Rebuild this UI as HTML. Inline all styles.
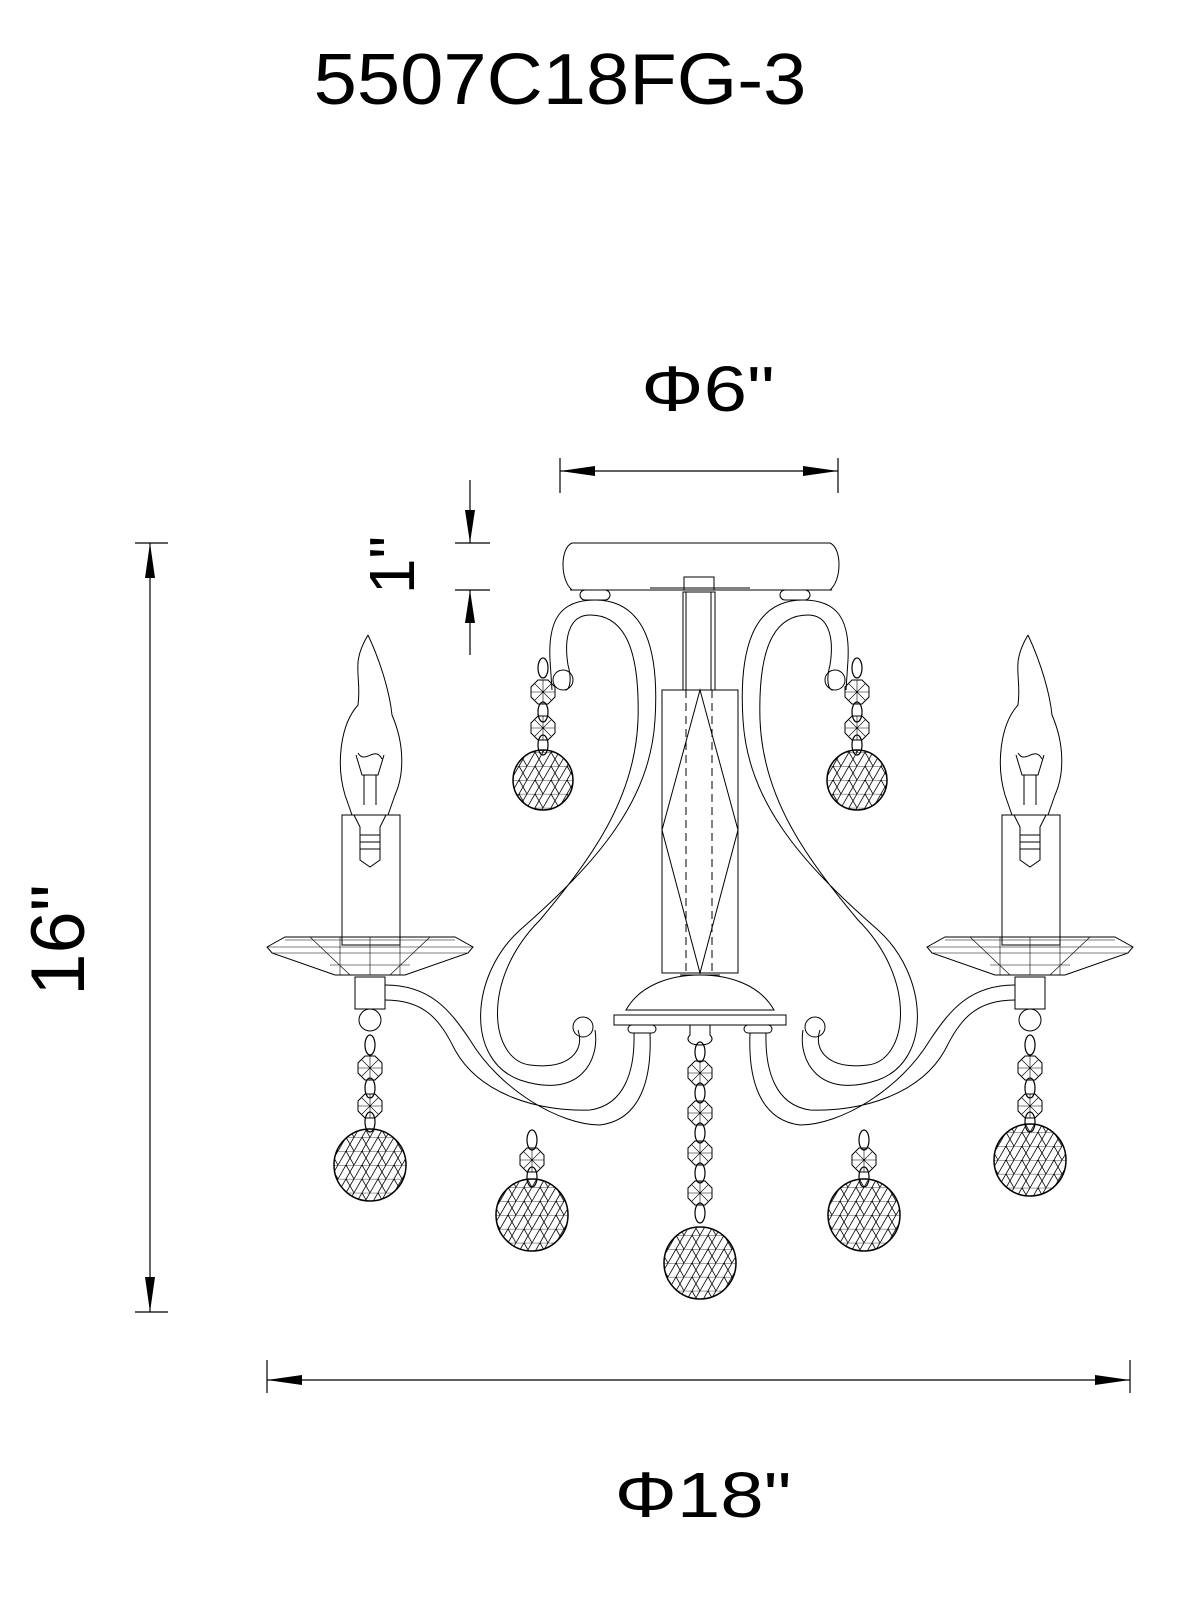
<!DOCTYPE html>
<html><head><meta charset="utf-8"><style>
html,body{margin:0;padding:0;background:#fff;}
svg{display:block}
text{font-family:"Liberation Sans",Arial,sans-serif;fill:#000}
</style></head><body>
<svg width="1186" height="1600" viewBox="0 0 1186 1600" xmlns="http://www.w3.org/2000/svg">
<defs>
<pattern id="tri" width="16" height="13.9" patternUnits="userSpaceOnUse">
<path d="M0 0H16M0 13.9L8 0L16 13.9M-8 0L0 13.9M8 13.9L16 0" stroke="#000" stroke-width="0.8" fill="none"/>
</pattern>
<g id="ball"><circle r="36" fill="url(#tri)" stroke="#000" stroke-width="1.5"/></g>
<g id="sball"><circle r="30" fill="url(#tri)" stroke="#000" stroke-width="1.5"/></g>
<g id="oct"><polygon points="-5,-12 5,-12 12,-5 12,5 5,12 -5,12 -12,5 -12,-5" fill="none" stroke="#000" stroke-width="1"/><path d="M-12,0H12M0,-12V12M-8,-8L8,8M8,-8L-8,8" stroke="#000" stroke-width="0.6"/></g>
<g id="link"><ellipse rx="5" ry="10" fill="none" stroke="#000" stroke-width="1.2"/></g>
<g id="candle">
<path d="M-2,-180 C-20,-150 -8,-140 -12,-110 C-30,-90 -34,-50 -25,-20 L-18,0 M-2,-180 C12,-150 20,-120 22,-100 C35,-70 34,-40 25,-20 L18,0" fill="none" stroke="#000" stroke-width="1"/>
<path d="M-14,-60 L-8,-40 L8,-40 L14,-60 M-6,-40 V-10 M6,-40V-10 M-12,-62 C-5,-50 5,-70 12,-56" fill="none" stroke="#000" stroke-width="1"/>
<rect x="-28" y="0" width="58" height="130" fill="none" stroke="#000" stroke-width="1"/>
<path d="M-16,0 L-10,12 V45 L0,52 L10,45 V12 L16,0 M-10,20H10M-10,27H10M-10,34H10" fill="none" stroke="#000" stroke-width="1"/>
<path d="M-103,132 L-85,122 H85 L103,132 L98,138 L35,160 H-35 L-98,138 Z" fill="none" stroke="#000" stroke-width="1"/>
<path d="M-103,132 H103 M-98,138 H98 M-60,122 L-20,160 M60,122 L20,160 M0,122V160 M-30,122V160 M30,122V160 M-85,125 H85 M-40,150 H40" fill="none" stroke="#000" stroke-width="0.6"/>
<rect x="-15" y="162" width="30" height="32" fill="none" stroke="#000" stroke-width="1"/>
<circle cx="0" cy="205" r="11" fill="none" stroke="#000" stroke-width="1"/>
</g>
</defs>

<!-- Title -->
<text font-size="72" text-anchor="middle" transform="translate(560,104) scale(1.08,1)">5507C18FG-3</text>

<!-- Phi6 -->
<text font-size="64" text-anchor="middle" transform="translate(708,411) scale(1.22,1)">Φ6"</text>
<g stroke="#000" stroke-width="1.2" fill="none">
<path d="M560,458V493 M838,458V493 M560,471H838"/>
<path d="M455,543H490 M455,590H490 M470,480V543 M470,590V655"/>
<path d="M135,543H168 M135,1312H168 M150,543V1312"/>
<path d="M267,1360V1393 M1130,1360V1393 M267,1380H1130"/>
</g>
<g fill="#000">
<polygon points="560,471 595,466 595,476"/><polygon points="838,471 803,466 803,476"/>
<polygon points="470,543 465,510 475,510"/><polygon points="470,590 465,623 475,623"/>
<polygon points="150,543 145,578 155,578"/><polygon points="150,1312 145,1277 155,1277"/>
<polygon points="267,1380 302,1375 302,1385"/><polygon points="1130,1380 1095,1375 1095,1385"/>
</g>
<text font-size="64" text-anchor="middle" transform="translate(414,565) rotate(-90)">1"</text>
<text font-size="76" text-anchor="middle" transform="translate(84,940) rotate(-90)">16"</text>
<text font-size="64" text-anchor="middle" transform="translate(703,1517) scale(1.22,1)">Φ18"</text>

<!-- Chandelier body -->
<g stroke="#000" stroke-width="1" fill="none">
<path d="M572,543 H830 C842,548 842,580 830,590 H572 C560,580 560,548 572,543 Z"/>
<path d="M570,590 H832 M650,588 H750"/>
<rect x="580" y="590" width="30" height="10" rx="5"/><rect x="780" y="590" width="30" height="10" rx="5"/>
<rect x="684" y="577" width="30" height="13"/>
<rect x="683" y="592" width="32" height="98"/><path d="M686,592V690 M711,592V690"/>
<rect x="662" y="690" width="76" height="283"/>
<path d="M700,690 L662,830 L700,973 L738,830 Z" />
<path d="M686,690 V973 M712,690 V973" stroke-dasharray="8,5"/>
<path d="M680,975 H720"/>
<path d="M626,1010 C640,985 670,975 700,975 C730,975 760,985 774,1010 Z"/>
<rect x="614" y="1015" width="172" height="10"/>
<rect x="628" y="1025" width="28" height="8" rx="4"/><rect x="744" y="1025" width="28" height="8" rx="4"/>
<path d="M690,1025 V1035 C685,1040 690,1045 700,1045 C710,1045 715,1040 710,1035 V1025"/>
<path d="M595,600 C560,600 548,620 550,660 L552,690 M590,615 C568,615 564,640 568,665 C572,680 570,690 565,690"/>
<path d="M595,600 C640,600 660,640 655,720 C650,800 600,860 520,930 C470,975 465,1060 520,1080 C580,1100 600,1060 595,1030 M590,615 C625,615 640,650 638,720 C635,800 590,860 540,920 C480,980 490,1060 530,1065 C570,1070 585,1050 578,1030"/>
<circle cx="563" cy="680" r="10"/>
<path d="M803,600 C838,600 850,620 848,660 L846,690 M808,615 C830,615 834,640 830,665 C826,680 828,690 833,690"/>
<path d="M803,600 C758,600 738,640 743,720 C748,800 798,860 878,930 C928,975 933,1060 878,1080 C818,1100 798,1060 803,1030 M808,615 C773,615 758,650 760,720 C763,800 808,860 858,920 C918,980 908,1060 868,1065 C828,1070 813,1050 820,1030"/>
<circle cx="835" cy="680" r="10"/>
<circle cx="583" cy="1027" r="10"/><circle cx="815" cy="1027" r="10"/>
<path d="M385,985 C430,985 450,1010 470,1040 C500,1090 560,1125 600,1125 C640,1120 652,1080 650,1033 M385,1000 C425,1000 440,1020 455,1050 C480,1095 540,1112 590,1110 C625,1105 635,1070 634,1033"/>
<path d="M1015,985 C970,985 950,1010 930,1040 C900,1090 840,1125 800,1125 C760,1120 748,1080 750,1033 M1015,1000 C975,1000 960,1020 945,1050 C920,1095 860,1112 810,1110 C775,1105 765,1070 766,1033"/>
</g>

<use href="#candle" x="370" y="815"/>
<use href="#candle" x="1030" y="815"/>

<g>
<use href="#link" x="543" y="668"/><use href="#oct" x="543" y="692"/><use href="#link" x="543" y="712"/><use href="#oct" x="543" y="728"/><use href="#link" x="543" y="745"/>
<use href="#sball" x="543" y="780"/>
<use href="#link" x="857" y="668"/><use href="#oct" x="857" y="692"/><use href="#link" x="857" y="712"/><use href="#oct" x="857" y="728"/><use href="#link" x="857" y="745"/>
<use href="#sball" x="857" y="780"/>

<use href="#link" x="370" y="1045"/><use href="#oct" x="370" y="1068"/><use href="#link" x="370" y="1088"/><use href="#oct" x="370" y="1106"/><use href="#link" x="370" y="1122"/>
<use href="#ball" x="370" y="1165"/>
<use href="#link" x="1030" y="1045"/><use href="#oct" x="1030" y="1068"/><use href="#link" x="1030" y="1088"/><use href="#oct" x="1030" y="1106"/><use href="#link" x="1030" y="1122"/>
<use href="#ball" x="1030" y="1160"/>

<use href="#link" x="532" y="1140"/><use href="#oct" x="532" y="1160"/><use href="#link" x="532" y="1177"/>
<use href="#ball" x="532" y="1215"/>
<use href="#link" x="864" y="1140"/><use href="#oct" x="864" y="1160"/><use href="#link" x="864" y="1177"/>
<use href="#ball" x="864" y="1215"/>

<use href="#link" x="700" y="1052"/><use href="#oct" x="700" y="1073"/><use href="#link" x="700" y="1093"/><use href="#oct" x="700" y="1113"/><use href="#link" x="700" y="1133"/><use href="#oct" x="700" y="1153"/><use href="#link" x="700" y="1173"/><use href="#oct" x="700" y="1193"/><use href="#link" x="700" y="1213"/>
<use href="#ball" x="700" y="1263"/>
</g>
</svg>
</body></html>
